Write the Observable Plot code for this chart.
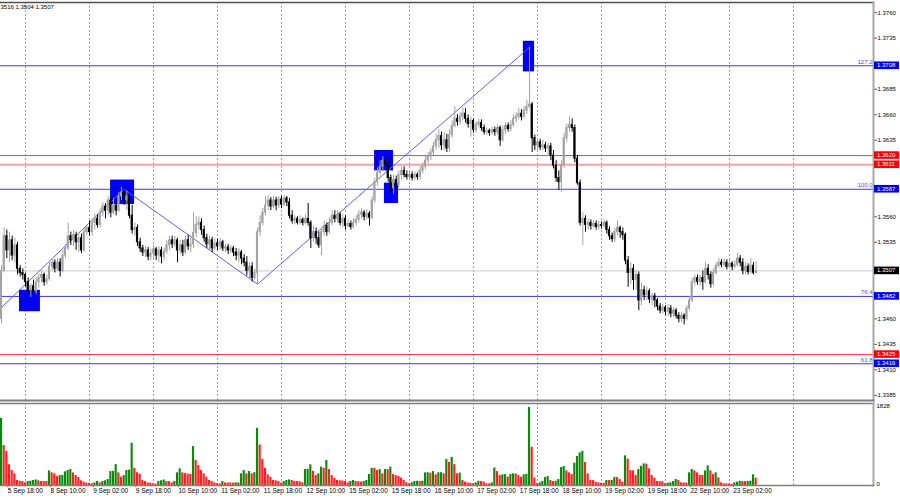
<!DOCTYPE html>
<html><head><meta charset="utf-8">
<script src="https://cdn.jsdelivr.net/npm/d3@7"></script>
<script src="https://cdn.jsdelivr.net/npm/@observablehq/plot@0.6"></script>
<style>
body{margin:0;background:#fff;}
#wrap{position:relative;width:900px;height:500px;overflow:hidden;background:#fff;}
</style></head><body><div id="wrap"></div>
<script>
// ---- data (H1 bars, 5 Sep 16:00 .. 23 Sep 11:00) ----
const open0 = 1.3460;
const closes = [
1.3507,1.3541,1.3527,1.3537,1.3522,1.3532,1.3509,1.3505,1.3503,1.3496,
1.3488,1.3492,1.3487,1.3496,1.3500,1.3503,1.3496,1.3499,1.3511,1.3515,
1.3509,1.3515,1.3507,1.3522,1.3529,1.3541,1.3537,1.3542,1.3535,1.3539,
1.3527,1.3545,1.3549,1.3545,1.3554,1.3558,1.3552,1.3564,1.3570,1.3566,
1.3576,1.3564,1.3571,1.3566,1.3580,1.3584,1.3576,1.3580,1.3561,1.3547,
1.3549,1.3535,1.3529,1.3525,1.3527,1.3521,1.3524,1.3528,1.3522,1.3527,
1.3521,1.3526,1.3532,1.3537,1.3533,1.3537,1.3527,1.3532,1.3525,1.3537,
1.3531,1.3533,1.3544,1.3552,1.3554,1.3547,1.3539,1.3533,1.3537,1.3529,
1.3534,1.3531,1.3535,1.3529,1.3530,1.3527,1.3529,1.3525,1.3522,1.3525,
1.3519,1.3515,1.3507,1.3511,1.3500,1.3505,1.3545,1.3554,1.3564,1.3571,
1.3576,1.3570,1.3576,1.3571,1.3577,1.3572,1.3578,1.3574,1.3561,1.3556,
1.3558,1.3554,1.3557,1.3554,1.3558,1.3554,1.3539,1.3545,1.3539,1.3532,
1.3545,1.3551,1.3545,1.3554,1.3561,1.3558,1.3562,1.3554,1.3558,1.3551,
1.3553,1.3550,1.3554,1.3557,1.3562,1.3564,1.3560,1.3563,1.3559,1.3576,
1.3594,1.3603,1.3609,1.3615,1.3612,1.3598,1.3588,1.3596,1.3591,1.3601,
1.3605,1.3601,1.3599,1.3601,1.3598,1.3601,1.3599,1.3605,1.3609,1.3615,
1.3619,1.3623,1.3629,1.3635,1.3639,1.3630,1.3635,1.3627,1.3640,1.3649,
1.3656,1.3653,1.3658,1.3661,1.3656,1.3651,1.3654,1.3645,1.3650,1.3652,
1.3647,1.3643,1.3644,1.3642,1.3645,1.3643,1.3647,1.3635,1.3645,1.3649,
1.3646,1.3650,1.3656,1.3658,1.3661,1.3658,1.3664,1.3668,1.3670,1.3637,
1.3630,1.3633,1.3628,1.3630,1.3627,1.3629,1.3620,1.3610,1.3598,1.3594,
1.3610,1.3637,1.3647,1.3650,1.3647,1.3617,1.3593,1.3554,1.3558,1.3552,
1.3554,1.3551,1.3553,1.3550,1.3552,1.3551,1.3554,1.3547,1.3541,1.3538,
1.3545,1.3549,1.3545,1.3542,1.3517,1.3505,1.3509,1.3498,1.3503,1.3478,
1.3488,1.3483,1.3487,1.3479,1.3482,1.3478,1.3472,1.3468,1.3471,1.3467,
1.3470,1.3465,1.3468,1.3463,1.3460,1.3463,1.3460,1.3470,1.3478,1.3496,
1.3500,1.3496,1.3500,1.3496,1.3509,1.3503,1.3494,1.3505,1.3512,1.3515,
1.3513,1.3515,1.3511,1.3514,1.3511,1.3513,1.3519,1.3515,1.3507,1.3511,
1.3506,1.3512,1.3505,1.3507];
const highs = [
1.3512,1.3549,1.3547,1.3545,1.3541,1.3539,1.3535,1.3512,1.3509,1.3505,
1.3500,1.3494,1.3498,1.3500,1.3504,1.3507,1.3505,1.3503,1.3515,1.3519,
1.3518,1.3519,1.3519,1.3527,1.3533,1.3554,1.3545,1.3547,1.3545,1.3544,
1.3543,1.3549,1.3552,1.3556,1.3558,1.3563,1.3562,1.3568,1.3574,1.3573,
1.3580,1.3579,1.3578,1.3576,1.3584,1.3589,1.3586,1.3585,1.3582,1.3571,
1.3554,1.3552,1.3539,1.3532,1.3531,1.3530,1.3528,1.3532,1.3530,1.3531,
1.3530,1.3529,1.3537,1.3541,1.3541,1.3541,1.3539,1.3537,1.3537,1.3541,
1.3542,1.3539,1.3564,1.3560,1.3560,1.3558,1.3551,1.3543,1.3541,1.3540,
1.3539,1.3538,1.3539,1.3537,1.3533,1.3533,1.3532,1.3531,1.3529,1.3529,
1.3527,1.3523,1.3521,1.3515,1.3515,1.3509,1.3549,1.3561,1.3568,1.3580,
1.3581,1.3579,1.3580,1.3579,1.3580,1.3580,1.3581,1.3580,1.3578,1.3566,
1.3561,1.3560,1.3561,1.3559,1.3562,1.3573,1.3556,1.3551,1.3549,1.3545,
1.3549,1.3556,1.3554,1.3559,1.3566,1.3566,1.3566,1.3564,1.3562,1.3561,
1.3557,1.3556,1.3558,1.3561,1.3566,1.3568,1.3566,1.3567,1.3565,1.3580,
1.3598,1.3608,1.3615,1.3619,1.3620,1.3617,1.3601,1.3601,1.3600,1.3605,
1.3609,1.3609,1.3605,1.3605,1.3604,1.3604,1.3603,1.3609,1.3613,1.3619,
1.3623,1.3627,1.3633,1.3641,1.3645,1.3643,1.3643,1.3641,1.3645,1.3654,
1.3668,1.3660,1.3662,1.3667,1.3666,1.3660,1.3658,1.3656,1.3653,1.3656,
1.3655,1.3650,1.3647,1.3646,1.3648,1.3648,1.3650,1.3649,1.3649,1.3652,
1.3652,1.3654,1.3660,1.3662,1.3666,1.3665,1.3668,1.3674,1.3726,1.3672,
1.3640,1.3637,1.3636,1.3635,1.3633,1.3632,1.3632,1.3625,1.3615,1.3605,
1.3615,1.3642,1.3651,1.3658,1.3656,1.3650,1.3620,1.3596,1.3564,1.3561,
1.3558,1.3557,1.3556,1.3556,1.3556,1.3555,1.3557,1.3556,1.3550,1.3544,
1.3549,1.3556,1.3551,1.3549,1.3544,1.3521,1.3515,1.3513,1.3507,1.3506,
1.3495,1.3492,1.3491,1.3489,1.3485,1.3485,1.3480,1.3475,1.3474,1.3473,
1.3474,1.3473,1.3471,1.3470,1.3466,1.3466,1.3465,1.3473,1.3482,1.3500,
1.3503,1.3503,1.3503,1.3507,1.3515,1.3513,1.3506,1.3509,1.3515,1.3519,
1.3518,1.3519,1.3518,1.3517,1.3516,1.3517,1.3524,1.3522,1.3519,1.3515,
1.3514,1.3519,1.3515,1.3516];
const lows = [
1.3455,1.3505,1.3519,1.3515,1.3517,1.3515,1.3503,1.3501,1.3498,1.3491,
1.3485,1.3481,1.3482,1.3484,1.3490,1.3495,1.3492,1.3493,1.3497,1.3507,
1.3505,1.3507,1.3501,1.3505,1.3519,1.3527,1.3532,1.3531,1.3527,1.3525,
1.3524,1.3525,1.3542,1.3541,1.3541,1.3547,1.3549,1.3549,1.3560,1.3558,
1.3561,1.3559,1.3562,1.3561,1.3564,1.3576,1.3571,1.3566,1.3558,1.3543,
1.3541,1.3531,1.3525,1.3521,1.3520,1.3517,1.3517,1.3519,1.3517,1.3515,
1.3514,1.3517,1.3523,1.3527,1.3529,1.3530,1.3515,1.3523,1.3521,1.3523,
1.3527,1.3525,1.3529,1.3539,1.3547,1.3542,1.3535,1.3529,1.3527,1.3525,
1.3527,1.3527,1.3527,1.3526,1.3525,1.3523,1.3524,1.3521,1.3517,1.3515,
1.3513,1.3511,1.3502,1.3500,1.3496,1.3498,1.3494,1.3541,1.3551,1.3561,
1.3566,1.3566,1.3568,1.3566,1.3568,1.3568,1.3570,1.3570,1.3558,1.3553,
1.3552,1.3552,1.3552,1.3551,1.3552,1.3551,1.3529,1.3535,1.3533,1.3529,
1.3522,1.3541,1.3541,1.3543,1.3551,1.3554,1.3554,1.3551,1.3549,1.3547,
1.3549,1.3547,1.3548,1.3551,1.3554,1.3558,1.3556,1.3557,1.3551,1.3557,
1.3573,1.3590,1.3600,1.3605,1.3607,1.3594,1.3584,1.3582,1.3586,1.3588,
1.3596,1.3598,1.3596,1.3596,1.3595,1.3596,1.3596,1.3596,1.3602,1.3606,
1.3612,1.3615,1.3620,1.3625,1.3627,1.3625,1.3625,1.3623,1.3623,1.3637,
1.3647,1.3649,1.3650,1.3654,1.3652,1.3647,1.3638,1.3642,1.3642,1.3647,
1.3644,1.3640,1.3640,1.3639,1.3640,1.3639,1.3640,1.3629,1.3633,1.3641,
1.3643,1.3643,1.3648,1.3652,1.3655,1.3654,1.3656,1.3660,1.3666,1.3623,
1.3625,1.3623,1.3625,1.3625,1.3623,1.3619,1.3615,1.3607,1.3594,1.3586,
1.3584,1.3607,1.3633,1.3643,1.3643,1.3613,1.3591,1.3551,1.3532,1.3545,
1.3547,1.3547,1.3549,1.3547,1.3547,1.3548,1.3549,1.3543,1.3537,1.3535,
1.3535,1.3541,1.3539,1.3537,1.3513,1.3491,1.3494,1.3488,1.3488,1.3468,
1.3473,1.3478,1.3478,1.3475,1.3473,1.3471,1.3468,1.3465,1.3465,1.3463,
1.3462,1.3461,1.3461,1.3460,1.3456,1.3456,1.3454,1.3458,1.3468,1.3476,
1.3492,1.3493,1.3492,1.3488,1.3494,1.3498,1.3490,1.3492,1.3503,1.3509,
1.3510,1.3511,1.3508,1.3509,1.3507,1.3509,1.3511,1.3511,1.3503,1.3503,
1.3503,1.3504,1.3503,1.3504];
const volumes = [
1570,936,800,485,350,273,117,100,94,62,
94,100,117,130,110,94,94,94,343,296,
273,210,234,240,320,350,374,296,234,187,
110,78,55,50,40,62,94,62,94,110,
140,327,330,490,296,195,234,350,360,990,
400,300,265,117,94,62,55,40,30,94,
110,130,94,90,62,94,296,390,296,280,
265,260,912,585,468,350,273,195,117,94,
62,40,35,94,62,60,58,55,62,60,
273,350,273,327,273,300,1340,950,610,400,
250,195,117,110,94,55,94,117,130,117,
94,90,88,62,374,380,485,335,234,273,
430,405,585,374,234,170,117,110,105,94,
62,94,117,94,90,80,94,117,257,405,
400,350,374,273,374,370,430,257,234,210,
171,117,62,40,62,94,100,94,100,296,
300,290,327,250,296,300,273,610,540,660,
490,273,290,117,80,62,50,40,62,100,
94,80,40,38,62,410,327,234,250,255,
195,257,273,270,234,195,250,260,1828,897,
171,40,62,94,187,210,117,94,100,140,
420,445,343,296,257,523,680,765,800,540,
273,117,115,78,62,55,50,117,115,120,
187,185,140,78,695,620,350,345,234,374,
450,507,500,390,234,171,94,90,88,40,
55,62,94,140,117,62,60,58,296,374,
343,296,240,234,343,460,343,257,296,180,
62,40,38,36,25,62,78,100,94,90,
94,100,250,171];
const timeLabels = ["5 Sep 18:00","8 Sep 10:00","9 Sep 02:00","9 Sep 18:00","10 Sep 10:00","11 Sep 02:00","11 Sep 18:00","12 Sep 10:00","15 Sep 02:00","15 Sep 18:00","16 Sep 10:00","17 Sep 02:00","17 Sep 18:00","18 Sep 10:00","19 Sep 02:00","19 Sep 18:00","22 Sep 10:00","23 Sep 02:00"];
const labelBars = [2,18,34,50,66,82,98,114,130,146,162,178,194,210,226,242,258,274];
const gridBars = [9,33,57,81,105,129,153,177,201,225,249,273,297];
const viewBars = [-0.375, 327];
const priceRange = [1.3380, 1.3770];
// axis ticks (those hidden under the price tags are left out)
const priceTicks = [1.3385,1.3410,1.3435,1.3460,1.3535,1.3560,1.3635,1.3660,1.3685,1.3735,1.3760];
const volTicks = [0, 1828];
const levelPrices = [1.3708, 1.3620, 1.3611, 1.3587, 1.3507, 1.3482, 1.3425, 1.3416];
const levelColors = ["#3c3cdc","#ff3a3a","#f5a3a3","#3c3cdc","#c8c8c8","#3c3cdc","#ff3a3a","#3c3cdc"];
const levelWidths = [1,1,2,1,1,1,1,1];
const levelBoxColors = ["#0000ee","#ff0000","#ff0000","#0000ee","#000000","#0000ee","#ff0000","#0000ee"];
const fibLabels = ["127.2","","","100.0","","76.4","","61.8"];
const zigzagBars = [-10, 46, 96, 198];
const zigzagPrices = [1.3446, 1.3587, 1.3494, 1.3726];
const boxBars1 = [6.75, 40.9, 139.9, 143.6, 195.7];
const boxBars2 = [14.6, 49.9, 147.0, 148.9, 199.9];
const boxPrice1 = [1.3488, 1.3596, 1.3625, 1.3593, 1.3732];
const boxPrice2 = [1.3467, 1.3572, 1.3605, 1.3573, 1.3702];
const headerText = "3516 1.3504 1.3507";

// ---- build tables ----
const bars = closes.map((c, i) => {
  const o = i ? closes[i - 1] : open0;
  return {i, open: o, close: c, high: Math.max(highs[i], o, c), low: Math.min(lows[i], o, c), up: c >= o};
});
const vols = volumes.map((v, i) => ({i, v, col: (i === 0 || v > volumes[i - 1]) ? "#0a8a0a" : "#ff2020"}));
const levels = levelPrices.map((p, k) => ({price: p, color: levelColors[k], w: levelWidths[k], box: levelBoxColors[k], fib: fibLabels[k]}));
const zigzag = zigzagBars.map((b, k) => ({i: b, p: zigzagPrices[k]}));
const boxes = boxBars1.map((b, k) => ({i1: b, i2: boxBars2[k], p1: boxPrice1[k], p2: boxPrice2[k]}));

const font = "Liberation Sans, Arial, sans-serif";
const bull = "#a3a3a3", bear = "#000000";

const main = Plot.plot({
  width: 900, height: 402, marginTop: 2, marginBottom: 2, marginLeft: 0, marginRight: 27,
  style: {fontFamily: font, fontSize: "6px", background: "transparent", overflow: "visible"},
  x: {domain: viewBars, axis: null},
  y: {domain: priceRange, axis: null},
  color: {type: "identity"},
  marks: [
    Plot.ruleX(gridBars, {stroke: "#a0a0a0", strokeDasharray: "2,2", strokeWidth: 1}),
    Plot.ruleY(levels, {y: "price", stroke: d => d.color, strokeWidth: d => d.w}),
    Plot.rect(boxes, {x1: "i1", x2: "i2", y1: "p1", y2: "p2", fill: "#0000f0"}),
    Plot.line(zigzag, {x: "i", y: "p", stroke: "#5c5cff", strokeWidth: 1, clip: true}),
    Plot.ruleX(bars, {x: "i", y1: "low", y2: "high", stroke: d => d.up ? bull : bear, strokeWidth: 1}),
    Plot.rect(bars, {x1: d => d.i - 0.4, x2: d => d.i + 0.4, y1: "open", y2: "close",
      fill: d => d.up ? bull : bear, insetTop: -0.5, insetBottom: -0.5}),
    Plot.text(levels.filter(d => d.fib), {y: "price", text: "fib", frameAnchor: "right", textAnchor: "end",
      dx: -1, dy: -4, fill: "#4a4aff", fontSize: 6}),
    Plot.axisY(priceTicks, {anchor: "right", label: null, tickFormat: d3.format(".4f"), tickSize: 3, tickPadding: 1,
      fontSize: 6, fill: "#000", stroke: "#555"}),
    Plot.frame({anchor: "top", stroke: "#505050", strokeWidth: 1.5}),
    Plot.frame({anchor: "right", stroke: "#a8a8a8", strokeWidth: 2}),
    Plot.frame({anchor: "bottom", stroke: "#808080", strokeWidth: 2}),
    Plot.text([headerText], {frameAnchor: "top-left", textAnchor: "start", dy: 2, fontSize: 6, fill: "#000"})
  ]
});
main.style.position = "absolute"; main.style.left = "0px"; main.style.top = "0px";

// price tags on the right axis, positioned with the plot's own y scale
const ys = main.scale("y");
const tagLayer = d3.select(main).append("g").attr("text-anchor", "start");
levels.forEach(lv => {
  const y = ys.apply(lv.price);
  tagLayer.append("rect").attr("x", 874).attr("y", y - 3.8).attr("width", 25).attr("height", 7.6).attr("fill", lv.box);
  tagLayer.append("text").attr("x", 877).attr("y", y).attr("dy", "0.34em").attr("text-anchor", "start")
    .attr("fill", "#fff").attr("font-size", 6).attr("font-family", font).text(d3.format(".4f")(lv.price));
});

const vol = Plot.plot({
  width: 900, height: 98, marginTop: 1, marginBottom: 15, marginLeft: 0, marginRight: 27,
  style: {fontFamily: font, fontSize: "6px", background: "transparent", overflow: "visible"},
  x: {domain: viewBars, axis: null},
  y: {domain: [0, 1828], range: [83, 5], axis: null},
  color: {type: "identity"},
  marks: [
    Plot.ruleX(gridBars, {stroke: "#a0a0a0", strokeDasharray: "2,2", strokeWidth: 1}),
    Plot.rect(vols, {x1: d => d.i - 0.4, x2: d => d.i + 0.4, y1: 0, y2: "v", fill: "col"}),
    Plot.axisY(volTicks, {anchor: "right", label: null, tickSize: 0, tickPadding: 3, tickFormat: d3.format("d"), dy: -1.5, fontSize: 6, fill: "#000"}),
    Plot.axisX(labelBars, {anchor: "bottom", label: null, tickSize: 2, tickPadding: 1, textAnchor: "start", dx: 1,
      tickFormat: d => timeLabels[labelBars.indexOf(d)], fontSize: 6.5, fill: "#000", stroke: "#555"}),
    Plot.frame({anchor: "top", stroke: "#808080", strokeWidth: 1.5}),
    Plot.frame({anchor: "right", stroke: "#a8a8a8", strokeWidth: 2}),
    Plot.frame({anchor: "bottom", stroke: "#808080", strokeWidth: 1.5})
  ]
});
vol.style.position = "absolute"; vol.style.left = "0px"; vol.style.top = "402px";

const wrap = document.getElementById("wrap");
wrap.appendChild(main);
wrap.appendChild(vol);
</script></body></html>
